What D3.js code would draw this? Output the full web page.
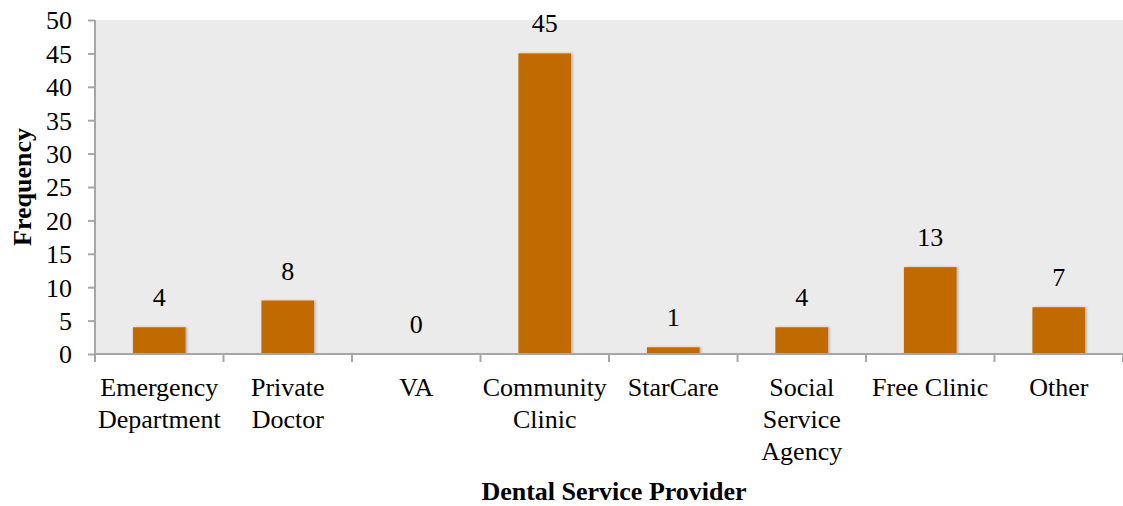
<!DOCTYPE html>
<html>
<head>
<meta charset="utf-8">
<script src="https://cdn.jsdelivr.net/npm/d3@7"></script>
<style>
  html, body { margin: 0; padding: 0; background: #fff; }
</style>
</head>
<body>
<svg id="chart" width="1123" height="506"></svg>
<script>
// Dental service provider frequencies
const categories = [
  ["Emergency", "Department"],
  ["Private", "Doctor"],
  ["VA"],
  ["Community", "Clinic"],
  ["StarCare"],
  ["Social", "Service", "Agency"],
  ["Free Clinic"],
  ["Other"]
];
const values = [4, 8, 0, 45, 1, 4, 13, 7];
const yTicks = [0, 5, 10, 15, 20, 25, 30, 35, 40, 45, 50];

const FONT = "'Liberation Serif', 'Times New Roman', Times, serif";
const FS = 26;

const svg = d3.select("#chart").style("font-family", FONT);
const plotLeft = 95, plotRight = 1123, plotTop = 20, plotBottom = 354;
const axisColor = "#a6a6a6";
const barColor = "#c06a00";

const keys = categories.map((c, i) => i);
const x = d3.scaleBand().domain(keys).range([plotLeft, plotRight]).paddingInner(0).paddingOuter(0);
const y = d3.scaleLinear().domain([0, 50]).range([plotBottom, plotTop]);

// plot background
svg.append("rect")
  .attr("x", plotLeft).attr("y", plotTop)
  .attr("width", plotRight - plotLeft).attr("height", plotBottom - plotTop)
  .attr("fill", "#ebebeb");

// soft shadow for bars
const defs = svg.append("defs");
const f = defs.append("filter").attr("id", "shadow").attr("x", "-20%").attr("y", "-20%").attr("width", "140%").attr("height", "140%");
f.append("feDropShadow").attr("dx", 1.5).attr("dy", 0).attr("stdDeviation", 1.2).attr("flood-color", "#000").attr("flood-opacity", 0.25);

const barW = x.bandwidth() * 0.41;

svg.append("g").selectAll("rect")
  .data(values)
  .join("rect")
  .attr("x", (d, i) => x(i) + x.bandwidth() / 2 - barW / 2)
  .attr("y", d => y(d))
  .attr("width", barW)
  .attr("height", d => plotBottom - y(d))
  .attr("fill", barColor)
  .attr("filter", "url(#shadow)");

// value labels
svg.append("g").selectAll("text")
  .data(values)
  .join("text")
  .attr("x", (d, i) => x(i) + x.bandwidth() / 2)
  .attr("y", d => y(d) - 21)
  .attr("text-anchor", "middle")
  .style("font-family", FONT)
  .style("font-size", FS + "px")
  .attr("fill", "#000")
  .text(d => d);

// y axis
const yAxis = d3.axisLeft(y).tickValues(yTicks).tickSize(7).tickPadding(16);
const gy = svg.append("g").attr("transform", `translate(${plotLeft},0)`).call(yAxis);
gy.select(".domain").attr("stroke", axisColor).attr("stroke-width", 2)
  .attr("d", `M0,${plotTop}V${plotBottom}`);
gy.selectAll(".tick line").attr("stroke", axisColor).attr("stroke-width", 2);
gy.selectAll(".tick text")
  .style("font-family", FONT)
  .style("font-size", FS + "px")
  .attr("fill", "#000")
  .attr("dy", "0.34em");

// x axis baseline and category separators
svg.append("line")
  .attr("x1", plotLeft).attr("x2", plotRight)
  .attr("y1", plotBottom).attr("y2", plotBottom)
  .attr("stroke", axisColor).attr("stroke-width", 2);

const sepPositions = keys.map(i => x(i)).concat([plotRight]);
svg.append("g").selectAll("line")
  .data(sepPositions)
  .join("line")
  .attr("x1", d => d).attr("x2", d => d)
  .attr("y1", plotBottom).attr("y2", plotBottom + 8)
  .attr("stroke", axisColor).attr("stroke-width", 2);

// category labels
const catG = svg.append("g").selectAll("text")
  .data(categories)
  .join("text")
  .attr("x", (d, i) => x(i) + x.bandwidth() / 2)
  .attr("y", 396)
  .attr("text-anchor", "middle")
  .style("font-family", FONT)
  .style("font-size", FS + "px")
  .attr("fill", "#000");
catG.selectAll("tspan")
  .data((d, i) => d.map(line => ({ line, i })))
  .join("tspan")
  .attr("x", d => x(d.i) + x.bandwidth() / 2)
  .attr("dy", (d, j) => j === 0 ? 0 : 32)
  .text(d => d.line);

// axis titles
svg.append("text")
  .attr("x", 614)
  .attr("y", 500)
  .attr("text-anchor", "middle")
  .style("font-family", FONT)
  .style("font-size", FS + "px")
  .style("font-weight", "bold")
  .attr("fill", "#000")
  .text("Dental Service Provider");

svg.append("text")
  .attr("transform", `translate(31,${(plotTop + plotBottom) / 2}) rotate(-90)`)
  .attr("text-anchor", "middle")
  .style("font-family", FONT)
  .style("font-size", FS + "px")
  .style("font-weight", "bold")
  .attr("fill", "#000")
  .text("Frequency");
</script>
</body>
</html>
